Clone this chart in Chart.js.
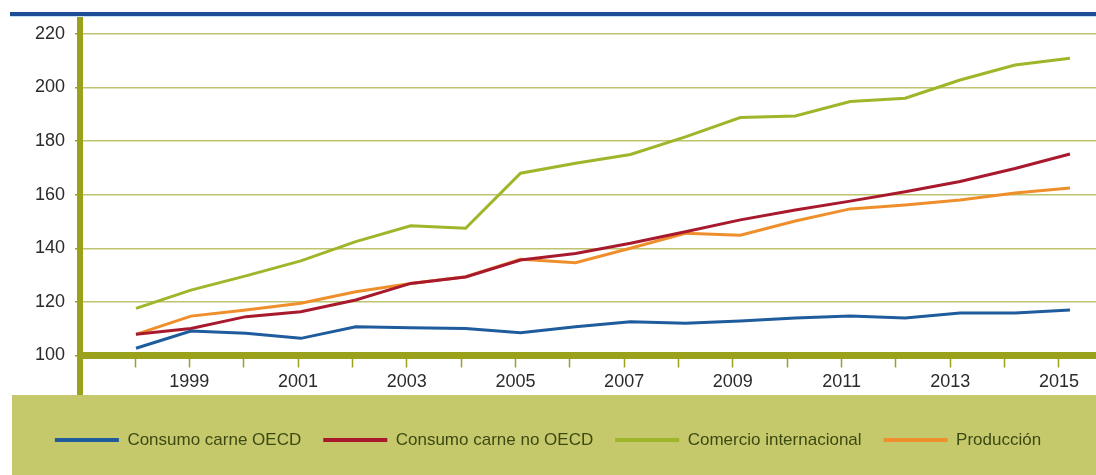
<!DOCTYPE html>
<html>
<head>
<meta charset="utf-8">
<script src="https://cdn.jsdelivr.net/npm/chart.js@4/dist/chart.umd.min.js"></script>
<style>
  html, body { margin: 0; padding: 0; background: #ffffff; }
  canvas { display: block; }
</style>
</head>
<body>
<canvas id="chart" width="1096" height="475"></canvas>
<script>
// Índices de carne (base 100), 1998–2015
const years = [1998, 1999, 2000, 2001, 2002, 2003, 2004, 2005, 2006, 2007, 2008, 2009, 2010, 2011, 2012, 2013, 2014, 2015];
const labeledYears = [1999, 2001, 2003, 2005, 2007, 2009, 2011, 2013, 2015];
const yTickValues = [100, 120, 140, 160, 180, 200, 220];

const consumoOECD   = [102.7, 109.1, 108.3, 106.4, 110.7, 110.4, 110.1, 108.5, 110.7, 112.6, 112.0, 112.9, 114.0, 114.7, 114.0, 115.9, 115.9, 117.0];
const consumoNoOECD = [107.9, 110.1, 114.5, 116.3, 120.7, 126.9, 129.3, 135.6, 138.1, 141.9, 146.2, 150.6, 154.3, 157.6, 161.1, 164.9, 169.8, 175.2];
const comercioIntl  = [117.6, 124.4, 129.7, 135.3, 142.5, 148.4, 147.5, 168.0, 171.7, 175.0, 181.6, 188.8, 189.4, 194.8, 196.0, 202.8, 208.4, 210.9];
const produccion    = [107.9, 114.7, 117.0, 119.5, 123.8, 126.9, 129.4, 135.9, 134.6, 140.0, 145.6, 144.9, 150.2, 154.7, 156.2, 158.0, 160.6, 162.5];

const seriesNames = ['Consumo carne OECD', 'Consumo carne no OECD', 'Comercio internacional', 'Producción'];

const FONT = '"Liberation Sans", Arial, sans-serif';
const OLIVE = '#9aa21c';
const GRID = 'rgba(170, 175, 60, 0.75)';
const LEGEND_BG = '#c6c86c';

const toPoints = vals => years.map((yr, i) => ({ x: yr, y: vals[i] }));

const lineSeries = (label, vals, color) => ({
  label,
  data: toPoints(vals),
  borderColor: color,
  backgroundColor: color,
  borderWidth: 3,
  pointRadius: 0,
  tension: 0,
  xAxisID: 'x',
  yAxisID: 'y'
});

// Frame pieces: top band, legend panel and the y axis running down to the panel
const framePlugin = {
  id: 'frame',
  beforeDraw(chart) {
    const ctx = chart.ctx;
    ctx.save();
    ctx.fillStyle = '#ffffff';
    ctx.fillRect(0, 0, chart.width, chart.height);
    ctx.fillStyle = LEGEND_BG;
    ctx.fillRect(12, 395, chart.width - 12, chart.height - 395);
    ctx.restore();
  },
  afterDraw(chart) {
    const ctx = chart.ctx;
    const area = chart.chartArea;
    ctx.save();
    ctx.fillStyle = OLIVE;
    ctx.fillRect(area.left - 3, area.bottom, 6, 395 - area.bottom);
    // keep the space above the band clean
    ctx.fillStyle = '#ffffff';
    ctx.fillRect(0, 0, chart.width, 12);
    ctx.fillStyle = '#1c4d95';
    ctx.fillRect(10, 12, chart.width - 10, 4);
    ctx.fillStyle = '#bfe3f2';
    ctx.fillRect(10, 16, chart.width - 10, 1);
    ctx.restore();
  }
};

new Chart(document.getElementById('chart'), {
  type: 'line',
  data: {
    datasets: [
      lineSeries(seriesNames[0], consumoOECD, '#1f5c9e'),
      lineSeries(seriesNames[1], consumoNoOECD, '#a8192e'),
      lineSeries(seriesNames[2], comercioIntl, '#9fb52a'),
      lineSeries(seriesNames[3], produccion, '#ef8f2c')
    ]
  },
  options: {
    responsive: false,
    devicePixelRatio: 1,
    animation: false,
    layout: { padding: { top: 14, left: 0, right: 0, bottom: 16.5 } },
    plugins: {
      tooltip: { enabled: false },
      legend: {
        position: 'bottom',
        labels: {
          boxWidth: 64,
          boxHeight: 4,
          padding: 22,
          color: '#3b4a12',
          font: { family: FONT, size: 17 },
          generateLabels: chart => chart.data.datasets.map((ds, i) => ({
            text: ds.label,
            fillStyle: ds.borderColor,
            strokeStyle: ds.borderColor,
            lineWidth: 0,
            hidden: false,
            datasetIndex: i,
            fontColor: '#3b4a12'
          }))
        }
      }
    },
    scales: {
      x: {
        type: 'linear',
        display: false,
        min: 1996.981,
        max: 2015.474
      },
      xAxis: {
        type: 'linear',
        position: 'bottom',
        min: 1996.988,
        max: 2015.682,
        afterBuildTicks: scale => { scale.ticks = years.map(v => ({ value: v })); },
        afterFit: scale => {
          scale.height = 54;
          scale.paddingLeft = 0;
          scale.paddingRight = 0;
        },
        border: { display: true, color: OLIVE, width: 7 },
        grid: {
          drawOnChartArea: false,
          drawTicks: true,
          tickLength: 12,
          tickColor: OLIVE,
          tickWidth: 1.5
        },
        ticks: {
          autoSkip: false,
          maxRotation: 0,
          padding: 4,
          color: '#2b2b2b',
          font: { family: FONT, size: 18 },
          callback: value => labeledYears.includes(value) ? String(value) : ''
        }
      },
      y: {
        type: 'linear',
        position: 'left',
        min: 100,
        max: 227.43,
        afterBuildTicks: scale => { scale.ticks = yTickValues.map(v => ({ value: v })); },
        afterFit: scale => {
          scale.width = 80;
          scale.paddingTop = 0;
          scale.paddingBottom = 0;
        },
        border: { display: true, color: OLIVE, width: 6 },
        grid: {
          color: GRID,
          lineWidth: 1.5,
          drawTicks: true,
          tickLength: 5,
          tickColor: OLIVE
        },
        ticks: {
          padding: 10,
          color: '#2b2b2b',
          font: { family: FONT, size: 18 },
          callback: value => String(value)
        }
      }
    }
  },
  plugins: [framePlugin]
});
</script>
</body>
</html>
